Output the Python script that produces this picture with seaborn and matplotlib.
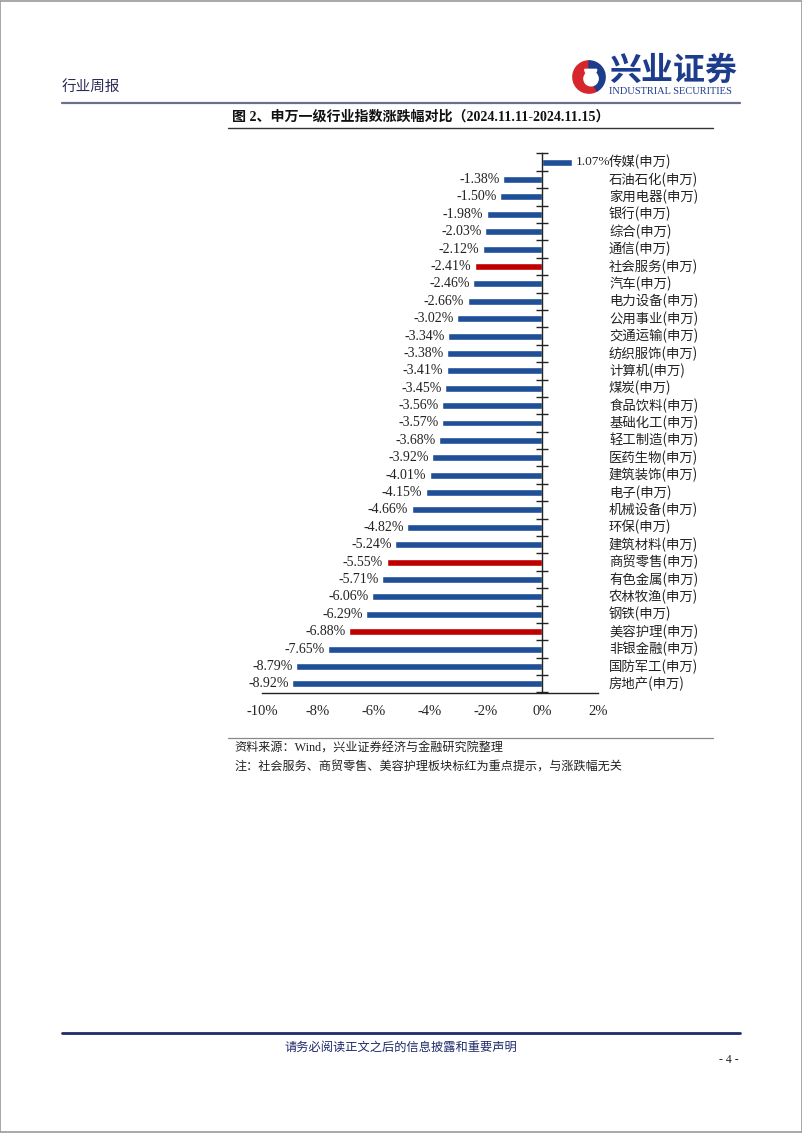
import matplotlib
matplotlib.use("Agg")
import matplotlib.pyplot as plt
import matplotlib.transforms as mtransforms
from matplotlib.lines import Line2D
from matplotlib.patches import Rectangle, Wedge, Circle
import seaborn as sns

sns.set_style("white")
plt.rcParams['font.family'] = ['Liberation Serif', 'Noto Sans CJK SC', 'DejaVu Sans']

categories = ["传媒", "石油石化", "家用电器", "银行", "综合", "通信", "社会服务", "汽车",
              "电力设备", "公用事业", "交通运输", "纺织服饰", "计算机", "煤炭", "食品饮料",
              "基础化工", "轻工制造", "医药生物", "建筑装饰", "电子", "机械设备", "环保",
              "建筑材料", "商贸零售", "有色金属", "农林牧渔", "钢铁", "美容护理", "非银金融",
              "国防军工", "房地产"]
values = [1.07, -1.38, -1.50, -1.98, -2.03, -2.12, -2.41, -2.46, -2.66, -3.02, -3.34,
          -3.38, -3.41, -3.45, -3.56, -3.57, -3.68, -3.92, -4.01, -4.15, -4.66, -4.82,
          -5.24, -5.55, -5.71, -6.06, -6.29, -6.88, -7.65, -8.79, -8.92]
highlighted = ["社会服务", "商贸零售", "美容护理"]
x_ticks = [-10, -8, -6, -4, -2, 0, 2]
title = "图 2、申万一级行业指数涨跌幅对比（2024.11.11-2024.11.15）"
source_note = "资料来源：Wind，兴业证券经济与金融研究院整理"
remark_note = "注：社会服务、商贸零售、美容护理板块标红为重点提示，与涨跌幅无关"

BLUE = "#1F4F97"
RED = "#C00000"
NAVY = "#1F2A6B"

labels = [c + "(申万)" for c in categories]
palette = {lab: (RED if c in highlighted else BLUE) for lab, c in zip(labels, categories)}

W, H = 802, 1133
fig = plt.figure(figsize=(W / 100, H / 100), dpi=100)
fig.patch.set_facecolor("white")


def fx(px):
    return px / W


def fy(py):
    return 1 - py / H


# Chart axes
left, right, top, bottom = 262, 598, 153.5, 692.5
ax = fig.add_axes([fx(left), fy(bottom), fx(right - left), (bottom - top) / H])
sns.barplot(x=values, y=labels, hue=labels, palette=palette, legend=False,
            width=0.4, orient="h", ax=ax, saturation=1)
ax.set_xlim(-10, 2)
ax.set_ylim(len(labels) - 0.5, -0.5)
ax.set_xlabel("")
ax.set_ylabel("")

for s in ["top", "right"]:
    ax.spines[s].set_visible(False)
ax.spines["left"].set_position(("data", 0))
for s in ["left", "bottom"]:
    ax.spines[s].set_color("#222222")
    ax.spines[s].set_linewidth(1.0)

ax.set_yticks([])
ax.set_yticks([i - 0.5 for i in range(len(labels) + 1)], minor=True)
ax.tick_params(axis="y", which="minor", direction="inout", length=9, width=1.0,
               color="#222222", left=True, labelleft=False)
ax.set_xticks(x_ticks)
ax.set_xticklabels([f"{t}%" for t in x_ticks], fontsize=10.5, family="Liberation Serif")
ax.tick_params(axis="x", direction="in", length=5, width=1.0, color="#222222", pad=9)

trans = mtransforms.blended_transform_factory(ax.transAxes, ax.transData)
for i, (lab, v) in enumerate(zip(labels, values)):
    ax.text(1 + 11 / (right - left), i, lab, transform=trans, ha="left", va="center",
            fontsize=9.6, family="Noto Sans CJK SC", color="#222222")
    if v < 0:
        ax.text(v - 0.12, i, f"{v:.2f}%", ha="right", va="center", fontsize=10,
                family="Liberation Serif", color="#222222")
    else:
        ax.text(v + 0.15, i, f"{v:.2f}%", ha="left", va="center", fontsize=9.6,
                family="Liberation Serif", color="#222222")

# Header
fig.text(fx(62), fy(87), "行业周报", fontsize=10.5, family="Noto Sans CJK SC",
         color="#2B2B5A", ha="left", va="center")
fig.add_artist(Line2D([fx(62), fx(740)], [fy(103), fy(103)], color="#6A6F8E", lw=1.6))

# Logo
lax = fig.add_axes([fx(572), fy(94), fx(34), 34 / H])
lax.set_xlim(-1, 1)
lax.set_ylim(-1, 1)
lax.set_aspect("equal")
lax.axis("off")
lax.add_patch(Wedge((0, 0), 0.95, 90, 300, color="#D7262B"))
lax.add_patch(Wedge((0, 0), 0.95, -60, 90, color="#1E3C8C"))
lax.add_patch(Circle((0.12, -0.1), 0.42, color="white"))
lax.add_patch(Wedge((0.1, 0.45), 0.35, 180, 360, color="white"))
fig.text(fx(609), fy(71), "兴业证券", fontsize=23, family="Noto Sans CJK SC",
         fontweight="bold", color="#1E3C8C", ha="left", va="center")
fig.text(fx(609), fy(92), "INDUSTRIAL SECURITIES", fontsize=7.5, family="Liberation Serif",
         color="#1E3C8C", ha="left", va="center")

# Title
fig.text(fx(421), fy(117), title, fontsize=10.1, fontweight="bold",
         family=["Liberation Serif", "Noto Sans CJK SC"], color="#111111",
         ha="center", va="center")
fig.add_artist(Line2D([fx(228), fx(713)], [fy(128), fy(128)], color="#333333", lw=1.0))

# Notes
fig.add_artist(Line2D([fx(228), fx(713)], [fy(738), fy(738)], color="#888888", lw=0.9))
fig.text(fx(234), fy(749), source_note, fontsize=8.7, family=["Liberation Serif", "Noto Sans CJK SC"],
         color="#222222", ha="left", va="center")
fig.text(fx(234), fy(767), remark_note, fontsize=8.7, family=["Liberation Serif", "Noto Sans CJK SC"],
         color="#222222", ha="left", va="center")

# Footer
fig.add_artist(Line2D([fx(62), fx(740)], [fy(1033), fy(1033)], color=NAVY, lw=2.0))
fig.text(fx(401), fy(1047), "请务必阅读正文之后的信息披露和重要声明", fontsize=8.8,
         family="Noto Sans CJK SC", color=NAVY, ha="center", va="center")
fig.text(fx(739), fy(1060), "- 4 -", fontsize=8.5, family="Liberation Serif",
         color="#222222", ha="right", va="center")

# Page border
fig.add_artist(Rectangle((0.0005, 0.0005), 0.999, 0.999, transform=fig.transFigure,
                         fill=False, edgecolor="#9A9A9A", lw=1.2))

fig.savefig("out.png", dpi=100, facecolor="white")
